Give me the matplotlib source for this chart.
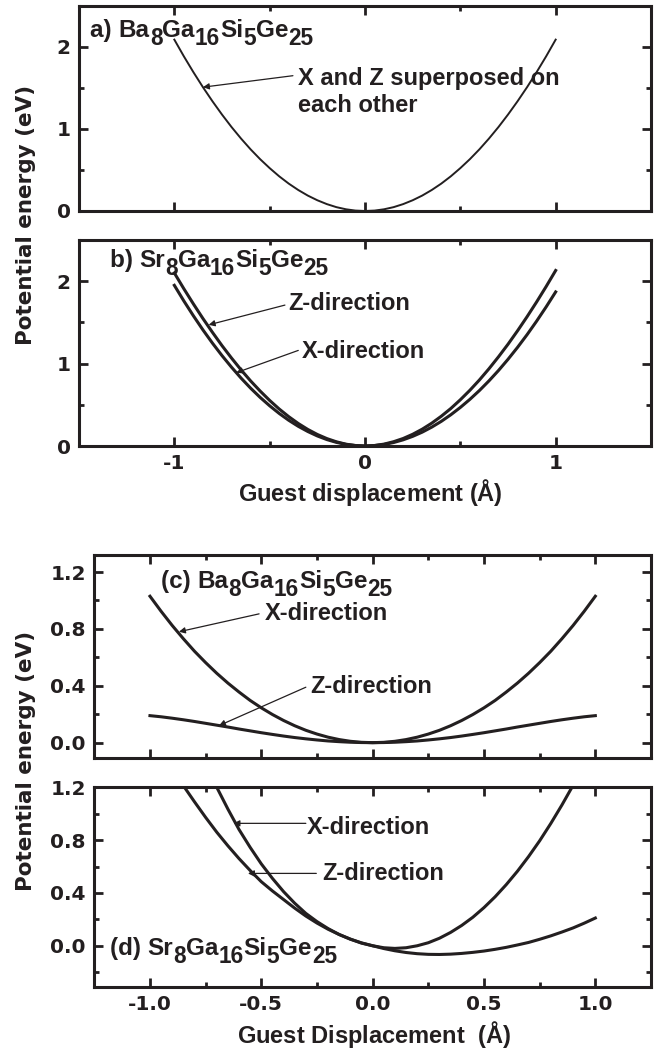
import matplotlib
matplotlib.use("Agg")
import matplotlib.pyplot as plt
from matplotlib.ticker import MultipleLocator, FormatStrFormatter
from matplotlib.transforms import offset_copy

plt.rcParams.update({
    "font.family": ["Liberation Sans", "DejaVu Sans"],
    "font.weight": "bold",
    "axes.unicode_minus": False,
    "mathtext.fontset": "custom",
    "mathtext.rm": "Liberation Sans",
    "mathtext.bf": "Liberation Sans:bold",
    "mathtext.it": "Liberation Sans:italic",
})

INK = "#231f20"

# guest displacement grid (Å)
disp = [-1.0, -0.95, -0.9, -0.85, -0.8, -0.75, -0.7, -0.65, -0.6, -0.55, -0.5,
        -0.45, -0.4, -0.35, -0.3, -0.25, -0.2, -0.15, -0.1, -0.05, 0.0,
        0.05, 0.1, 0.15, 0.2, 0.25, 0.3, 0.35, 0.4, 0.45, 0.5,
        0.55, 0.6, 0.65, 0.7, 0.75, 0.8, 0.85, 0.9, 0.95, 1.0]

# (a) Ba8Ga16Si5Ge25, X and Z coincide
a_xz = [2.09, 1.886, 1.693, 1.510, 1.338, 1.176, 1.024, 0.883, 0.752, 0.632, 0.523,
        0.423, 0.334, 0.256, 0.188, 0.131, 0.084, 0.047, 0.021, 0.005, 0.0,
        0.005, 0.021, 0.047, 0.084, 0.131, 0.188, 0.256, 0.334, 0.423, 0.523,
        0.632, 0.752, 0.883, 1.024, 1.176, 1.338, 1.510, 1.693, 1.886, 2.09]

# (b) Sr8Ga16Si5Ge25
b_z = [2.10, 1.908, 1.724, 1.547, 1.379, 1.218, 1.067, 0.924, 0.790, 0.667, 0.553,
       0.449, 0.356, 0.273, 0.201, 0.140, 0.090, 0.051, 0.022, 0.006, 0.0,
       0.006, 0.023, 0.052, 0.091, 0.142, 0.204, 0.277, 0.361, 0.455, 0.561,
       0.676, 0.801, 0.937, 1.082, 1.235, 1.398, 1.569, 1.748, 1.935, 2.13]
b_x = [1.95, 1.760, 1.580, 1.409, 1.248, 1.097, 0.956, 0.824, 0.702, 0.590, 0.488,
       0.395, 0.312, 0.239, 0.176, 0.122, 0.078, 0.044, 0.0195, 0.005, 0.0,
       0.005, 0.0187, 0.042, 0.075, 0.117, 0.168, 0.229, 0.299, 0.379, 0.468,
       0.566, 0.673, 0.790, 0.916, 1.052, 1.197, 1.351, 1.515, 1.688, 1.87]

# (c) Ba8Ga16Si5Ge25
c_x = [1.030, 0.924, 0.824, 0.731, 0.643, 0.563, 0.488, 0.419, 0.356, 0.297, 0.245,
       0.198, 0.156, 0.119, 0.087, 0.0605, 0.0385, 0.0217, 0.0096, 0.0024, 0.0,
       0.0024, 0.0096, 0.0217, 0.0385, 0.0605, 0.087, 0.119, 0.156, 0.198, 0.245,
       0.297, 0.356, 0.419, 0.488, 0.563, 0.643, 0.731, 0.824, 0.924, 1.030]
c_z = [0.190, 0.182, 0.172, 0.161, 0.149, 0.136, 0.123, 0.110, 0.096, 0.083, 0.070,
       0.058, 0.0465, 0.036, 0.027, 0.019, 0.012, 0.007, 0.003, 0.0008, 0.0,
       0.0008, 0.003, 0.007, 0.012, 0.019, 0.027, 0.036, 0.0465, 0.058, 0.070,
       0.083, 0.096, 0.110, 0.123, 0.136, 0.149, 0.161, 0.172, 0.182, 0.190]

# (d) Sr8Ga16Si5Ge25
d_x = [2.46, 2.225, 2.00, 1.785, 1.58, 1.385, 1.20, 1.035, 0.88, 0.745, 0.62,
       0.51, 0.41, 0.322, 0.245, 0.183, 0.13, 0.085, 0.05, 0.02, 0.0,
       -0.015, -0.02, -0.015, 0.0, 0.023, 0.057, 0.101, 0.154, 0.216, 0.289,
       0.371, 0.463, 0.564, 0.675, 0.795, 0.926, 1.066, 1.215, 1.374, 1.543]
d_z = [1.62, 1.477, 1.34, 1.212, 1.09, 0.972, 0.86, 0.757, 0.66, 0.570, 0.485,
       0.415, 0.35, 0.285, 0.225, 0.172, 0.125, 0.085, 0.05, 0.022, 0.0,
       -0.021, -0.038, -0.051, -0.060, -0.065, -0.066, -0.0635, -0.058, -0.050, -0.040,
       -0.027, -0.012, 0.006, 0.025, 0.049, 0.075, 0.104, 0.135, 0.171, 0.21]

# compound formulas as (text, is_subscript) runs
ba_formula = [("Ba", False), ("8", True), ("Ga", False), ("16", True),
              ("Si", False), ("5", True), ("Ge", False), ("25", True)]
sr_formula = [("Sr", False), ("8", True), ("Ga", False), ("16", True),
              ("Si", False), ("5", True), ("Ge", False), ("25", True)]

W, H = 658, 1049
fig = plt.figure(figsize=(W / 100, H / 100), dpi=100)
renderer = fig.canvas.get_renderer()


def box(left, top, right, bottom):
    return [left / W, 1 - bottom / H, (right - left) / W, (bottom - top) / H]


ax_a = fig.add_axes(box(79, 6, 651, 211))
ax_b = fig.add_axes(box(79, 240, 651, 446))
ax_c = fig.add_axes(box(94.3, 555, 651, 758.3))
ax_d = fig.add_axes(box(94.3, 787.3, 651, 986.7))

TICK_FONT = ["DejaVu Sans"]


def style(ax, xmaj, xmin, ymaj, ymin, size):
    for s in ax.spines.values():
        s.set_linewidth(2.2)
        s.set_color(INK)
    ax.xaxis.set_major_locator(MultipleLocator(xmaj))
    ax.xaxis.set_minor_locator(MultipleLocator(xmin))
    ax.yaxis.set_major_locator(MultipleLocator(ymaj))
    ax.yaxis.set_minor_locator(MultipleLocator(ymin))
    ax.tick_params(which="both", direction="in", top=True, right=True,
                   width=2.0, color=INK, labelcolor=INK, labelsize=size, pad=6,
                   labelfontfamily=TICK_FONT)
    ax.tick_params(which="major", length=6.5)
    ax.tick_params(which="minor", length=3.5)


def arrow(ax, tail, tip):
    ax.annotate("", xy=tip, xytext=tail,
                arrowprops=dict(arrowstyle="-|>", lw=0.9, color=INK,
                                mutation_scale=9, shrinkA=0, shrinkB=0))


def label(ax, x, y, prefix, runs, size):
    """Write prefix + formula with lowered subscripts, starting at (x, y)."""
    dx = 0.0
    for s, sub in [(prefix, False)] + runs:
        fs = size * 0.93 if sub else size
        dy = -size * 0.32 if sub else 0.0
        tr = offset_copy(ax.transData, fig=fig, x=dx, y=dy, units="points")
        t = ax.text(x, y, s, fontsize=fs, va="baseline", ha="left",
                    color=INK, transform=tr)
        dx += t.get_window_extent(renderer).width * 72 / fig.dpi


TXT = 17
TITLE = 17.5
TICK_TOP = 14.5
TICK_BOT = 14.5

# ---- (a)
ax_a.plot(disp, a_xz, color=INK, lw=1.4)
ax_a.set_xlim(-1.5, 1.5)
ax_a.set_ylim(0, 2.5)
style(ax_a, 1, 0.5, 1, 0.5, TICK_TOP)
ax_a.set_xticklabels([])
label(ax_a, -1.44, 2.12, "a) ", ba_formula, TITLE)
ax_a.text(-0.35, 1.54, "X and Z superposed on", fontsize=TXT, va="baseline", color=INK)
ax_a.text(-0.35, 1.21, "each other", fontsize=TXT, va="baseline", color=INK)
arrow(ax_a, (-0.378, 1.65), (-0.85, 1.51))

# ---- (b)
ax_b.plot(disp, b_z, color=INK, lw=2.2)
ax_b.plot(disp, b_x, color=INK, lw=2.2)
ax_b.set_xlim(-1.5, 1.5)
ax_b.set_ylim(0, 2.5)
style(ax_b, 1, 0.5, 1, 0.5, TICK_TOP)
label(ax_b, -1.34, 2.17, "b) ", sr_formula, TITLE)
ax_b.text(-0.40, 1.65, "Z-direction", fontsize=TXT, va="baseline", color=INK)
arrow(ax_b, (-0.42, 1.71), (-0.82, 1.47))
ax_b.text(-0.33, 1.07, "X-direction", fontsize=TXT, va="baseline", color=INK)
arrow(ax_b, (-0.35, 1.16), (-0.675, 0.89))

# ---- (c)
ax_c.plot(disp, c_x, color=INK, lw=2.2)
ax_c.plot(disp, c_z, color=INK, lw=2.2)
ax_c.set_xlim(-1.25, 1.25)
ax_c.set_ylim(-0.11, 1.32)
style(ax_c, 0.5, 0.25, 0.4, 0.2, TICK_BOT)
ax_c.yaxis.set_major_formatter(FormatStrFormatter("%.1f"))
ax_c.set_xticklabels([])
label(ax_c, -0.95, 1.087, "(c) ", ba_formula, TITLE)
ax_c.text(-0.486, 0.864, "X-direction", fontsize=TXT, va="baseline", color=INK)
arrow(ax_c, (-0.51, 0.906), (-0.87, 0.78))
ax_c.text(-0.28, 0.35, "Z-direction", fontsize=TXT, va="baseline", color=INK)
arrow(ax_c, (-0.30, 0.39), (-0.69, 0.12))

# ---- (d)
ax_d.plot(disp, d_x, color=INK, lw=2.2)
ax_d.plot(disp, d_z, color=INK, lw=2.2)
ax_d.set_xlim(-1.25, 1.25)
ax_d.set_ylim(-0.31, 1.2)
style(ax_d, 0.5, 0.25, 0.4, 0.2, TICK_BOT)
ax_d.xaxis.set_major_formatter(FormatStrFormatter("%.1f"))
ax_d.yaxis.set_major_formatter(FormatStrFormatter("%.1f"))
label(ax_d, -1.18, -0.07, "(d) ", sr_formula, TITLE)
ax_d.text(-0.294, 0.85, "X-direction", fontsize=TXT, va="baseline", color=INK)
arrow(ax_d, (-0.30, 0.927), (-0.625, 0.927))
ax_d.text(-0.227, 0.50, "Z-direction", fontsize=TXT, va="baseline", color=INK)
arrow(ax_d, (-0.253, 0.548), (-0.56, 0.548))

# shared axis titles
ylab = dict(rotation=90, ha="center", va="center", fontsize=15.5,
            fontweight="bold", family=["DejaVu Sans"], color=INK)
fig.text(26 / W, 1 - 215 / H, "Potential energy (eV)", **ylab)
fig.text(26 / W, 1 - 761 / H, "Potential energy (eV)", **ylab)
fig.text(370 / W, 1 - 493 / H, r"Guest displacement ($\mathrm{\AA}$)",
         ha="center", va="center", fontsize=17, fontweight="bold", color=INK)
fig.text(374 / W, 1 - 1035 / H, r"Guest Displacement  ($\mathrm{\AA}$)",
         ha="center", va="center", fontsize=17, fontweight="bold", color=INK)

fig.savefig("out.png", dpi=100)
